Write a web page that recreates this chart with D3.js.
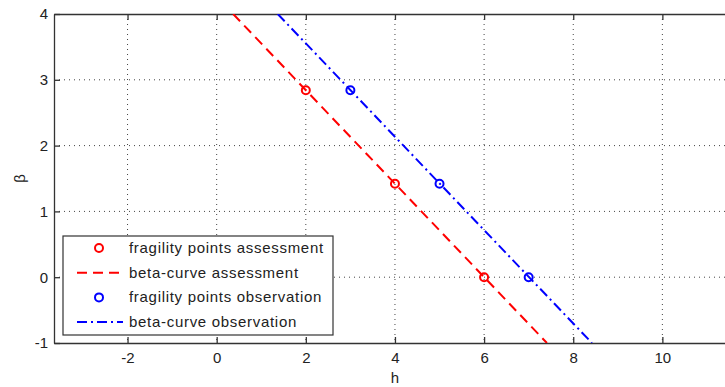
<!DOCTYPE html>
<html>
  <head>
    <meta charset="utf-8">
    <script src="https://d3js.org/d3.v7.min.js"></script>
    <style>
    body { margin: 0; background: #fff; }
    text { font-family: 'Liberation Sans', Arial, sans-serif; fill: #222; }
    .grid line { stroke: #444; stroke-dasharray: 1,4; }
    </style>
  </head>
  <body>
    <script>

      // data
      var xTicks = [-2, 0, 2, 4, 6, 8, 10];
      var yTicks = [-1, 0, 1, 2, 3, 4];
      var assessH = [2, 4, 6];
      var assessBeta = [2.84, 1.42, 0];
      var observH = [3, 5, 7];
      var observBeta = [2.84, 1.42, 0];
      // beta-curve endpoints (straight lines)
      var assessCurveH = [0.37, 7.41];
      var assessCurveBeta = [4, -1];
      var observCurveH = [1.37, 8.42];
      var observCurveBeta = [4, -1];
      var legendLabels = ["fragility points assessment", "beta-curve assessment",
                          "fragility points observation", "beta-curve observation"];

      // setup
      var w = 725, h = 387;
      var margin = {top: 14, bottom: 44, left: 54, right: -2};
      var plotwidth = w - margin.left - margin.right;
      var plotheight = h - margin.top - margin.bottom;

      var svg = d3.select("body").append("svg")
          .attr("width", w)
          .attr("height", h);
      var plotarea = svg.append("g")
          .attr("transform", "translate(" + margin.left + "," + margin.top + ")");

      var xScale = d3.scaleLinear().domain([-3.65, 11.45]).range([0, plotwidth]);
      var yScale = d3.scaleLinear().domain([-1, 4]).range([plotheight, 0]);

      // gridlines
      var grid = plotarea.append("g").attr("class", "grid");
      grid.selectAll(".gx").data(xTicks).enter().append("line")
          .attr("x1", d => xScale(d)).attr("x2", d => xScale(d))
          .attr("y1", 0).attr("y2", plotheight);
      grid.selectAll(".gy").data(yTicks.filter(d => d > -1 && d < 4)).enter().append("line")
          .attr("x1", 0).attr("x2", plotwidth)
          .attr("y1", d => yScale(d)).attr("y2", d => yScale(d));

      // axes (ticks inside, matlab style)
      var axColor = "#333";
      var fmt = d => String(d);
      var xAxis = plotarea.append("g")
          .attr("transform", "translate(0," + plotheight + ")")
          .call(d3.axisBottom(xScale).tickValues(xTicks).tickFormat(fmt)
                .tickSizeInner(-6).tickSizeOuter(0).tickPadding(9));
      var xTop = plotarea.append("g")
          .call(d3.axisTop(xScale).tickValues(xTicks).tickSizeInner(-6).tickSizeOuter(0).tickFormat(""));
      var yAxis = plotarea.append("g")
          .call(d3.axisLeft(yScale).tickValues(yTicks).tickFormat(fmt)
                .tickSizeInner(-6).tickSizeOuter(0).tickPadding(6));
      [xAxis, xTop, yAxis].forEach(function(a) {
        a.select(".domain").attr("stroke", axColor).attr("stroke-width", 1.3);
        a.selectAll(".tick line").attr("stroke", axColor).attr("stroke-width", 1.3);
        a.selectAll(".tick text").attr("font-size", 15).attr("fill", "#222")
          .attr("font-family", "'Liberation Sans', Arial, sans-serif");
      });

      // axis labels
      svg.append("text")
          .attr("x", margin.left + xScale(4))
          .attr("y", 383)
          .attr("text-anchor", "middle")
          .attr("font-size", 15)
          .text("h");
      svg.append("text")
          .attr("transform", "translate(25," + (margin.top + yScale(1.5)) + ") rotate(-90)")
          .attr("text-anchor", "middle")
          .attr("font-size", 15)
          .text("β");

      // clip
      svg.append("clipPath").attr("id", "clip").append("rect")
          .attr("width", plotwidth).attr("height", plotheight);
      var marks = plotarea.append("g").attr("clip-path", "url(#clip)");

      var line = d3.line().x(d => xScale(d[0])).y(d => yScale(d[1]));

      marks.append("path")
          .datum(d3.zip(assessCurveH, assessCurveBeta))
          .attr("d", line)
          .attr("fill", "none").attr("stroke", "#ff0000").attr("stroke-width", 2)
          .attr("stroke-dasharray", "10,6");
      marks.append("path")
          .datum(d3.zip(observCurveH, observCurveBeta))
          .attr("d", line)
          .attr("fill", "none").attr("stroke", "#0000ff").attr("stroke-width", 2)
          .attr("stroke-dasharray", "10,4,2,4");

      marks.selectAll(".pa").data(d3.zip(assessH, assessBeta)).enter().append("circle")
          .attr("cx", d => xScale(d[0])).attr("cy", d => yScale(d[1]))
          .attr("r", 4).attr("fill", "none").attr("stroke", "#ff0000").attr("stroke-width", 2);
      marks.selectAll(".po").data(d3.zip(observH, observBeta)).enter().append("circle")
          .attr("cx", d => xScale(d[0])).attr("cy", d => yScale(d[1]))
          .attr("r", 4).attr("fill", "none").attr("stroke", "#0000ff").attr("stroke-width", 2);

      // legend
      var legend = svg.append("g").attr("transform", "translate(63,236)");
      legend.append("rect")
          .attr("width", 270).attr("height", 99)
          .attr("fill", "#fff").attr("stroke", axColor).attr("stroke-width", 1.2);
      var styles = [
        {type: "point", color: "#ff0000"},
        {type: "line", color: "#ff0000", dash: "10,6"},
        {type: "point", color: "#0000ff"},
        {type: "line", color: "#0000ff", dash: "10,4,2,4"}
      ];
      var rows = legend.selectAll(".row").data(legendLabels).enter().append("g")
          .attr("transform", (d, i) => "translate(0," + (12 + i * 24.7) + ")");
      rows.each(function(d, i) {
        var g = d3.select(this), s = styles[i];
        if (s.type === "point") {
          g.append("circle").attr("cx", 36).attr("cy", 0).attr("r", 4)
            .attr("fill", "none").attr("stroke", s.color).attr("stroke-width", 2);
        } else {
          g.append("line").attr("x1", 14).attr("x2", 60).attr("y1", 0).attr("y2", 0)
            .attr("stroke", s.color).attr("stroke-width", 2).attr("stroke-dasharray", s.dash);
        }
        g.append("text").attr("x", 66).attr("y", 5)
          .attr("font-size", 15).attr("letter-spacing", 0.7).text(d);
      });

    </script>
  </body>
</html>
